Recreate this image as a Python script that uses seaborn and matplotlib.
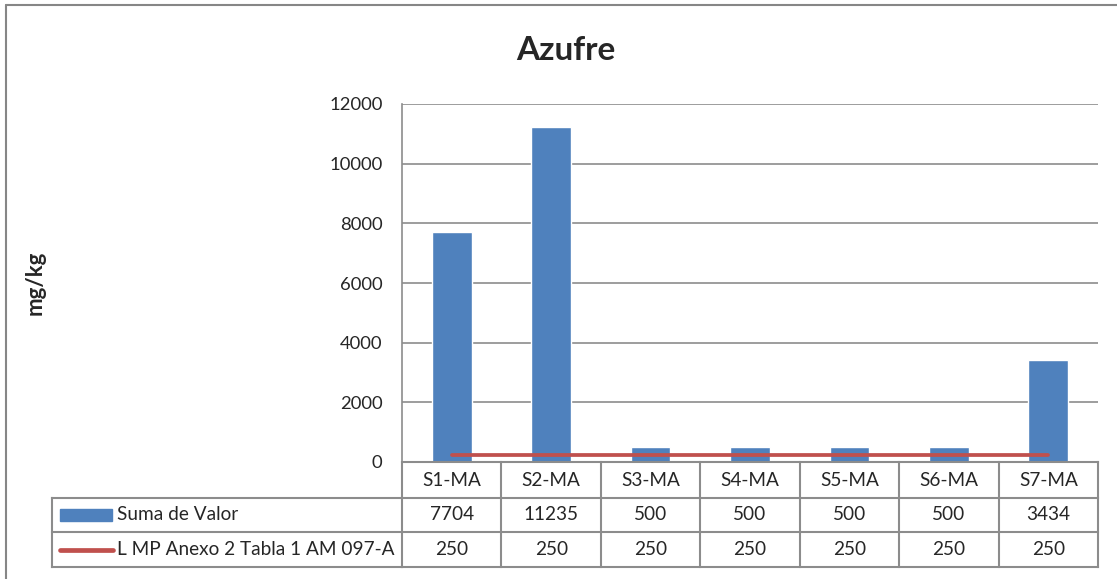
import numpy as np
import pandas as pd
import seaborn as sns
import matplotlib.pyplot as plt
from matplotlib.transforms import blended_transform_factory

# datos del grafico
categorias = ["S1-MA", "S2-MA", "S3-MA", "S4-MA", "S5-MA", "S6-MA", "S7-MA"]
suma_valor = [7704, 11235, 500, 500, 500, 500, 3434]
limite = [250, 250, 250, 250, 250, 250, 250]
serie_barras = "Suma de Valor"
serie_linea = "L MP Anexo 2 Tabla 1 AM 097-A"
titulo = "Azufre"
eje_y = "mg/kg"
ticks_y = [0, 2000, 4000, 6000, 8000, 10000, 12000]

AZUL = "#4F81BD"
ROJO = "#C0504D"
GRIS = "#8C8C8C"


def set_config():
    sns.set_theme(style="white")
    plt.rcParams["font.family"] = ["Lato", "DejaVu Sans"]
    plt.rcParams["font.size"] = 13


def main():
    set_config()
    W, H = 1117, 579
    fig = plt.figure(figsize=(W / 100, H / 100), dpi=100)
    fig.patch.set_facecolor("white")

    # area del grafico en pixeles
    x0, x1, y_top, y_bot = 402, 1098, 104, 462
    ax = fig.add_axes([x0 / W, 1 - y_bot / H, (x1 - x0) / W, (y_bot - y_top) / H])

    df = pd.DataFrame({"muestra": categorias, "valor": suma_valor, "limite": limite})
    sns.barplot(data=df, x="muestra", y="valor", color=AZUL, saturation=1,
                width=0.4, ax=ax, zorder=2)
    sns.pointplot(data=df, x="muestra", y="limite", color=ROJO, markers="",
                  ax=ax, zorder=3)
    linea = ax.lines[-1]
    linea.set_linewidth(3.4)
    linea.set_solid_capstyle("round")

    ax.set_ylim(0, 12000)
    ax.set_yticks(ticks_y)
    ax.set_xlim(-0.5, len(categorias) - 0.5)
    ax.set_xticks([])
    ax.set_xlabel("")
    ax.set_ylabel("")
    ax.yaxis.grid(True, color=GRIS, lw=1.2, zorder=0)
    ax.set_axisbelow(True)
    ax.tick_params(axis="y", length=0, pad=14, labelsize=13.3)
    for s in ["top", "right"]:
        ax.spines[s].set_visible(False)
    for s in ["left", "bottom"]:
        ax.spines[s].set_color(GRIS)
        ax.spines[s].set_linewidth(1.2)

    # tabla de datos bajo el grafico
    alto = y_bot - y_top
    filas = [0, -(498 - y_bot) / alto, -(532 - y_bot) / alto, -(567 - y_bot) / alto]
    tr = ax.get_xaxis_transform()
    tr_izq = blended_transform_factory(fig.transFigure, ax.transAxes)
    n = len(categorias)
    kw = dict(color=GRIS, lw=1.5, clip_on=False, solid_capstyle="projecting")
    for f in filas:
        ax.plot([-0.5, n - 0.5], [f, f], transform=tr, **kw)
    for i in range(n + 1):
        ax.plot([i - 0.5, i - 0.5], [filas[0], filas[3]], transform=tr, **kw)
    izq = 52 / W
    for f in filas[1:]:
        ax.plot([izq, x0 / W], [f, f], transform=tr_izq, **kw)
    ax.plot([izq, izq], [filas[1], filas[3]], transform=tr_izq, **kw)

    fs = 13.7
    centros = [(filas[k] + filas[k + 1]) / 2 for k in range(3)]
    for i, cat in enumerate(categorias):
        ax.text(i, centros[0], cat, transform=tr, ha="center", va="center", fontsize=fs)
        ax.text(i, centros[1], str(suma_valor[i]), transform=tr, ha="center", va="center", fontsize=fs)
        ax.text(i, centros[2], str(limite[i]), transform=tr, ha="center", va="center", fontsize=fs)

    # claves de leyenda en la tabla
    ax.add_patch(plt.Rectangle((60 / W, centros[1] - 6 / alto), 52 / W, 12 / alto,
                               transform=tr_izq, color=AZUL, clip_on=False))
    ax.plot([60 / W, 113 / W], [centros[2], centros[2]], transform=tr_izq, color=ROJO,
            lw=3.4, solid_capstyle="round", clip_on=False)
    ax.text(117 / W, centros[1], serie_barras, transform=tr_izq, ha="left", va="center", fontsize=fs)
    ax.text(117 / W, centros[2], serie_linea, transform=tr_izq, ha="left", va="center", fontsize=fs)

    fig.text(566 / W, 1 - 50 / H, titulo, ha="center", va="center", fontsize=24, fontweight="bold")
    fig.text(35 / W, 1 - 283 / H, eje_y, ha="center", va="center", rotation=90,
             fontsize=16, fontweight="bold")

    # borde del area del grafico
    fig.add_artist(plt.Line2D([6 / W, 6 / W], [0, 1 - 5 / H], transform=fig.transFigure,
                              color="#868686", lw=1.5))
    fig.add_artist(plt.Line2D([6 / W, 1], [1 - 5 / H, 1 - 5 / H], transform=fig.transFigure,
                              color="#868686", lw=1.5))

    fig.savefig("out.png", dpi=100)


if __name__ == "__main__":
    main()
